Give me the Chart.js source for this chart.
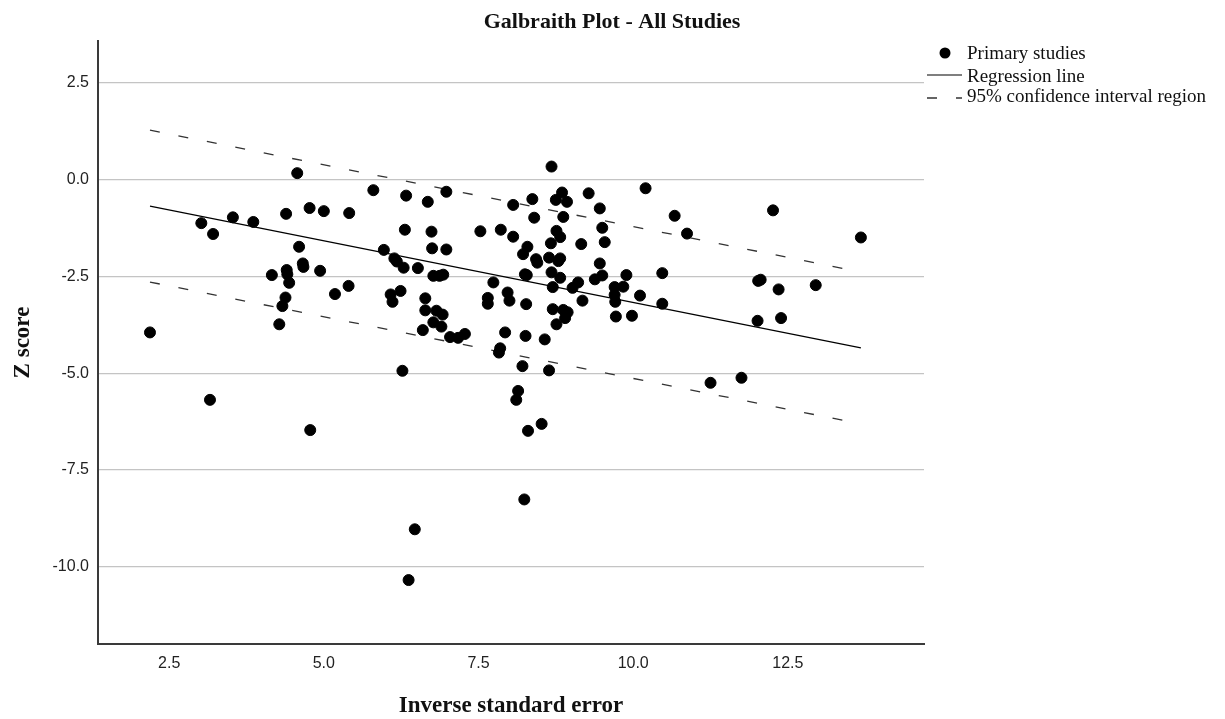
<!DOCTYPE html>
<html lang="en">
<head>
<meta charset="UTF-8">
<title>Galbraith Plot - All Studies</title>
<script src="https://cdn.jsdelivr.net/npm/chart.js"></script>
<style>
  html, body { margin: 0; padding: 0; background: #fff; }
  #wrap { width: 1225px; height: 719px; position: relative; }
</style>
</head>
<body>
<div id="wrap"><canvas id="galbraith"></canvas></div>
<script>
// inverse standard error (precision) of each primary study
const precision = [
  2.19, 3.02, 3.21, 3.53, 3.86, 3.16, 4.16, 4.28, 4.33, 4.38,
  4.40, 4.41, 4.44, 4.39, 4.57, 4.60, 4.66, 4.67, 4.77, 4.78,
  4.94, 5.00, 5.18, 5.40, 5.41, 5.80, 5.97, 6.08, 6.11, 6.24,
  6.14, 6.18, 6.27, 6.29, 6.31, 6.33, 6.37, 6.47, 6.52, 6.60,
  6.64, 6.64, 6.68, 6.74, 6.75, 6.77, 6.87, 6.93, 6.82, 6.92,
  6.77, 6.90, 6.98, 6.98, 7.04, 7.17, 7.28, 7.53, 7.65, 7.65,
  7.74, 7.85, 7.83, 7.86, 7.93, 7.97, 8.00, 8.06, 8.06, 8.11,
  8.14, 8.21, 8.22, 8.29, 8.24, 8.25, 8.28, 8.27, 8.26, 8.30,
  8.37, 8.40, 8.43, 8.45, 8.52, 8.57, 8.64, 8.64, 8.67, 8.68,
  8.68, 8.70, 8.70, 8.75, 8.76, 8.76, 8.79, 8.82, 8.82, 8.82,
  8.85, 8.87, 8.87, 8.93, 8.94, 8.90, 9.02, 9.11, 9.16, 9.18,
  9.28, 9.38, 9.46, 9.46, 9.50, 9.50, 9.54, 9.70, 9.70, 9.71,
  9.72, 9.84, 9.89, 9.98, 10.11, 10.20, 10.47, 10.47, 10.67, 10.87,
  11.25, 11.75, 12.01, 12.02, 12.06, 12.26, 12.35, 12.39, 12.95, 13.68
];
// z score of each study, same order
const zScore = [
  -3.95, -1.13, -1.41, -0.98, -1.10, -5.69, -2.47, -3.74, -3.27, -3.05,
  -2.34, -2.45, -2.67, -0.89, 0.16, -1.74, -2.17, -2.26, -0.74, -6.47,
  -2.36, -0.82, -2.96, -2.75, -0.87, -0.28, -1.82, -2.97, -3.16, -2.88,
  -2.04, -2.12, -4.94, -2.28, -1.30, -0.42, -10.34, -9.03, -2.29, -3.89,
  -3.07, -3.38, -0.58, -1.35, -1.78, -2.49, -2.49, -2.46, -3.39, -3.49,
  -3.69, -3.80, -0.32, -1.81, -4.07, -4.09, -3.99, -1.34, -3.06, -3.21,
  -2.66, -4.36, -4.47, -1.30, -3.95, -2.92, -3.13, -0.66, -1.48, -5.69,
  -5.46, -4.82, -1.93, -1.74, -8.26, -2.45, -2.47, -3.22, -4.04, -6.49,
  -0.51, -0.99, -2.06, -2.15, -6.31, -4.13, -2.02, -4.93, -1.65, 0.33,
  -2.40, -2.78, -3.35, -0.53, -1.33, -3.74, -2.11, -2.04, -1.49, -2.54,
  -0.34, -0.97, -3.37, -0.58, -3.43, -3.58, -2.80, -2.66, -1.67, -3.13,
  -0.36, -2.58, -2.17, -0.75, -1.25, -2.48, -1.62, -2.78, -2.98, -3.16,
  -3.54, -2.77, -2.47, -3.52, -3.00, -0.23, -2.42, -3.21, -0.94, -1.40,
  -5.25, -5.12, -3.65, -2.62, -2.59, -0.80, -2.84, -3.58, -2.73, -1.50
];

// end points of the regression line and the 95% band
const regX = [2.19, 13.68];
const regY = [-0.69, -4.35];
const upperY = [1.27, -2.39];
const lowerY = [-2.65, -6.31];

const xTicks = [2.5, 5.0, 7.5, 10.0, 12.5];
const yTicks = [2.5, 0.0, -2.5, -5.0, -7.5, -10.0];

const legendLabels = ['Primary studies', 'Regression line', '95% confidence interval region'];

const toPoints = (xs, ys) => xs.map((x, i) => ({ x: x, y: ys[i] }));
const DASH = [10, 19];

// titles + legend drawn by hand so they sit where SPSS put them
const decorations = {
    id: 'decorations',
    afterDraw(chart) {
        const c = chart.ctx;
        c.save();
        c.fillStyle = '#111';

        c.font = 'bold 22px "Liberation Serif"';
        c.textAlign = 'center';
        c.textBaseline = 'alphabetic';
        c.fillText('Galbraith Plot - All Studies', 612, 28);

        c.font = 'bold 23px "Liberation Serif"';
        const ca = chart.chartArea;
        c.fillText('Inverse standard error', (ca.left + ca.right) / 2, 712);

        c.save();
        c.translate(29, (ca.top + ca.bottom) / 2);
        c.rotate(-Math.PI / 2);
        c.fillText('Z score', 0, 0);
        c.restore();

        // legend
        c.textAlign = 'left';
        c.font = '19px "Liberation Serif"';
        c.fillStyle = '#000';
        c.beginPath();
        c.arc(945, 53, 5.5, 0, Math.PI * 2);
        c.fill();
        c.fillStyle = '#111';
        c.fillText(legendLabels[0], 967, 59);

        c.strokeStyle = '#000';
        c.lineWidth = 1.2;
        c.beginPath();
        c.moveTo(927, 75);
        c.lineTo(962, 75);
        c.stroke();
        c.fillText(legendLabels[1], 967, 81.5);

        c.strokeStyle = '#333';
        c.lineWidth = 1.3;
        c.setLineDash(DASH);
        c.beginPath();
        c.moveTo(927, 98);
        c.lineTo(962, 98);
        c.stroke();
        c.setLineDash([]);
        c.fillText(legendLabels[2], 967, 102);
        c.restore();
    }
};

const ctx = document.getElementById('galbraith').getContext('2d');
new Chart(ctx, {
    type: 'scatter',
    data: {
        datasets: [
            {
                label: legendLabels[0],
                data: toPoints(precision, zScore),
                backgroundColor: '#000',
                borderColor: '#000',
                pointRadius: 5.5,
                order: 0
            },
            {
                label: legendLabels[1],
                data: toPoints(regX, regY),
                showLine: true,
                borderColor: '#000',
                borderWidth: 1.2,
                pointRadius: 0,
                order: 1
            },
            {
                label: legendLabels[2],
                data: toPoints(regX, upperY),
                showLine: true,
                borderColor: '#333',
                borderWidth: 1.3,
                borderDash: DASH,
                pointRadius: 0,
                order: 1
            },
            {
                label: legendLabels[2],
                data: toPoints(regX, lowerY),
                showLine: true,
                borderColor: '#333',
                borderWidth: 1.3,
                borderDash: DASH,
                pointRadius: 0,
                order: 1
            }
        ]
    },
    options: {
        responsive: true,
        maintainAspectRatio: false,
        animation: false,
        layout: { padding: { left: 0, right: 301, top: 41, bottom: 0 } },
        scales: {
            x: {
                type: 'linear',
                min: 1.35,
                max: 14.70,
                afterBuildTicks: s => { s.ticks = xTicks.map(v => ({ value: v })); },
                afterFit: s => { s.height = 75; },
                grid: { display: true, color: 'rgba(0,0,0,0)', drawTicks: false },
                border: { display: true, color: '#3a3a3a', width: 2 },
                ticks: {
                    padding: 10,
                    color: '#222',
                    font: { family: '"Liberation Sans"', size: 16 },
                    callback: v => Number(v).toFixed(1)
                }
            },
            y: {
                type: 'linear',
                min: -11.99,
                max: 3.57,
                afterBuildTicks: s => { s.ticks = yTicks.map(v => ({ value: v })); },
                afterFit: s => { s.width = 98; },
                grid: { color: '#c4c4c4', lineWidth: 1.2, drawTicks: false },
                border: { display: true, color: '#3a3a3a', width: 2 },
                ticks: {
                    padding: 9,
                    color: '#222',
                    font: { family: '"Liberation Sans"', size: 16 },
                    callback: v => Number(v).toFixed(1)
                }
            }
        },
        plugins: {
            legend: { display: false },
            tooltip: { enabled: false },
            title: { display: false }
        }
    },
    plugins: [decorations]
});
</script>
</body>
</html>
